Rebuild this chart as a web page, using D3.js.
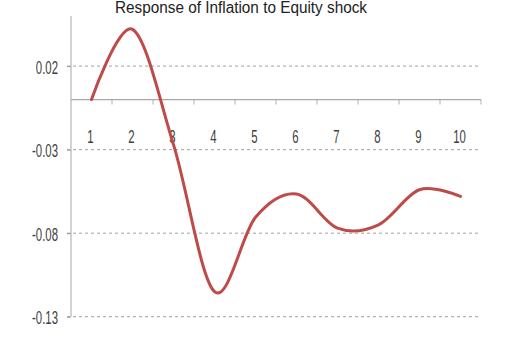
<!DOCTYPE html>
<html>
<head>
<meta charset="utf-8">
<script src="https://cdn.jsdelivr.net/npm/d3@7"></script>
<style>
  html, body { margin: 0; padding: 0; background: #fff; }
  svg { display: block; }
  text { font-family: "Liberation Sans", Arial, sans-serif; fill: #404040; }
</style>
</head>
<body>
<svg id="chart" width="508" height="360"></svg>
<script>
// Impulse response of inflation to an equity shock, periods 1-10
const periods = [1, 2, 3, 4, 5, 6, 7, 8, 9, 10];
const response = [0.0, 0.042, -0.027, -0.115, -0.0705, -0.0565, -0.0770, -0.0750, -0.0540, -0.0580];
const yTicks = [0.02, -0.03, -0.08, -0.13];
const yTickLabels = ["0.02", "-0.03", "-0.08", "-0.13"];
const title = "Response of Inflation to Equity shock";

const W = 508, H = 360;
const plot = { left: 71, right: 481, top: 16, bottom: 316.7 };
const squeeze = 0.6;   // condensed look for tick labels

const svg = d3.select("#chart");

const x = d3.scaleBand()
  .domain(periods)
  .range([plot.left, plot.right])
  .padding(0);

const y = d3.scaleLinear()
  .domain([-0.13, 0.05])
  .range([plot.bottom, plot.top]);

// Title
svg.append("text")
  .attr("x", 241)
  .attr("y", 13)
  .attr("text-anchor", "middle")
  .attr("font-size", 16)
  .attr("textLength", 252)
  .attr("lengthAdjust", "spacingAndGlyphs")
  .style("fill", "#222")
  .text(title);

// Horizontal dashed gridlines
svg.append("g")
  .selectAll("line")
  .data(yTicks)
  .join("line")
  .attr("x1", plot.left - 4)
  .attr("x2", plot.right)
  .attr("y1", d => y(d))
  .attr("y2", d => y(d))
  .attr("stroke", "#a0a0a0")
  .attr("stroke-width", 1)
  .attr("stroke-dasharray", "3,3");

// Y axis
const yAxis = d3.axisLeft(y)
  .tickValues(yTicks)
  .tickFormat((d, i) => yTickLabels[i])
  .tickSize(4)
  .tickPadding(0);

const gy = svg.append("g")
  .attr("transform", `translate(${plot.left},0)`)
  .call(yAxis);
gy.select(".domain").attr("stroke", "#b5b5b5").attr("stroke-width", 1.2)
  .attr("d", `M0,${plot.top}V${plot.bottom}`);
gy.selectAll(".tick line").attr("stroke", "#9a9a9a");
gy.selectAll(".tick text")
  .attr("x", 0)
  .attr("transform", `translate(-13,1) scale(${squeeze},1)`)
  .attr("font-size", 19)
  .style("font-family", "\"Liberation Sans\", Arial, sans-serif")
  .style("fill", "#404040");

// X axis on the zero line, ticks at category boundaries
const gx = svg.append("g")
  .attr("transform", `translate(0,${y(0)})`);
gx.append("line")
  .attr("x1", plot.left)
  .attr("x2", plot.right)
  .attr("stroke", "#a8a8a8")
  .attr("stroke-width", 1.2);
gx.selectAll("line.tick")
  .data(periods)
  .join("line")
  .attr("class", "tick")
  .attr("x1", d => x(d) + x.bandwidth())
  .attr("x2", d => x(d) + x.bandwidth())
  .attr("y1", 0)
  .attr("y2", 5)
  .attr("stroke", "#b0b0b0");
gx.selectAll("text")
  .data(periods)
  .join("text")
  .attr("transform", d => `translate(${x(d) + x.bandwidth() / 2 - 1},43) scale(${squeeze},1)`)
  .attr("text-anchor", "middle")
  .attr("font-size", 19)
  .text(d => d);

// Response line (smoothed)
const line = d3.line()
  .x((d, i) => x(periods[i]) + x.bandwidth() / 2)
  .y(d => y(d))
  .curve(d3.curveCatmullRom.alpha(0));

svg.append("path")
  .datum(response)
  .attr("d", line)
  .attr("fill", "none")
  .attr("stroke", "#be4b48")
  .attr("stroke-width", 3)
  .attr("stroke-linejoin", "round")
  .attr("stroke-linecap", "round");
</script>
</body>
</html>
